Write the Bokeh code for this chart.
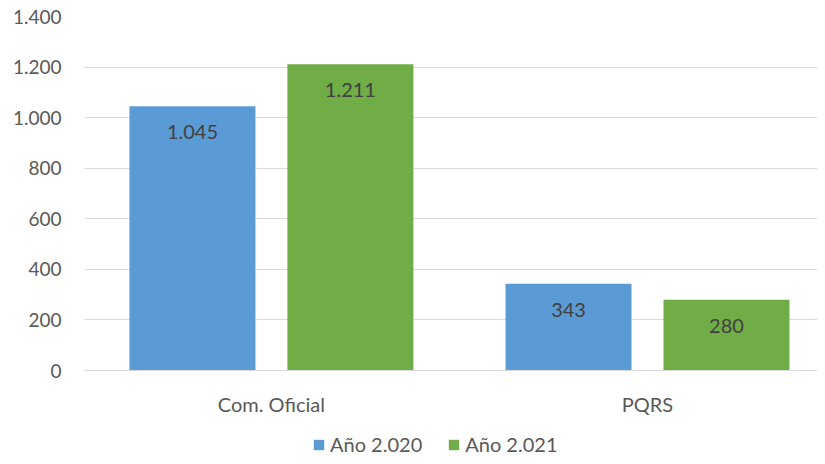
from bokeh.plotting import figure
from bokeh.layouts import column
from bokeh.models import ColumnDataSource, Range1d, FixedTicker, LabelSet, Legend, LegendItem
from bokeh.core.properties import value
from bokeh.embed import file_html
from bokeh.resources import INLINE

categories = ["Com. Oficial", "PQRS"]
series_names = ["Año 2.020", "Año 2.021"]
values_2020 = [1045, 343]
values_2021 = [1211, 280]
label_2020 = ["1.045", "343"]
label_2021 = ["1.211", "280"]
y_ticks = [0, 200, 400, 600, 800, 1000, 1200, 1400]
y_tick_labels = ["0", "200", "400", "600", "800", "1.000", "1.200", "1.400"]

BLUE = "#5B9BD5"
GREEN = "#70AD47"
FONT = "Lato"
colors = [BLUE, GREEN]

xs = list(range(len(categories)))
src_a = ColumnDataSource(dict(x=[i - 0.21 for i in xs], top=values_2020, lab=label_2020))
src_b = ColumnDataSource(dict(x=[i + 0.21 for i in xs], top=values_2021, lab=label_2021))

p = figure(width=817, height=420, output_backend="svg", toolbar_location=None,
           x_range=Range1d(-0.497, 1.452), y_range=Range1d(0, 1400),
           min_border_left=84, min_border_right=0, min_border_top=16, min_border_bottom=50)
p.outline_line_color = None

p.vbar(x="x", top="top", width=0.335, source=src_a, fill_color=BLUE, line_color=None)
p.vbar(x="x", top="top", width=0.335, source=src_b, fill_color=GREEN, line_color=None)

for s in (src_a, src_b):
    p.add_layout(LabelSet(x="x", y="top", text="lab", source=s, y_offset=-26,
                          text_align="center", text_baseline="middle",
                          text_font=value(FONT), text_font_size=value("20px"),
                          text_color="#404040"))

p.xaxis.ticker = FixedTicker(ticks=xs)
p.xaxis.major_label_overrides = {i: c for i, c in enumerate(categories)}
p.xaxis.axis_line_color = "#D9D9D9"
p.xaxis.major_tick_line_color = None
p.xaxis.minor_tick_line_color = None
p.xaxis.major_label_standoff = 15
p.xaxis.major_label_text_font = FONT
p.xaxis.major_label_text_font_size = "20px"
p.xaxis.major_label_text_color = "#595959"
p.xgrid.grid_line_color = None

p.yaxis.ticker = FixedTicker(ticks=y_ticks)
p.yaxis.major_label_overrides = {t: l for t, l in zip(y_ticks, y_tick_labels)}
p.yaxis.axis_line_color = None
p.yaxis.major_tick_line_color = None
p.yaxis.minor_tick_line_color = None
p.yaxis.major_label_standoff = 17
p.yaxis.major_label_text_font = FONT
p.yaxis.major_label_text_font_size = "19px"
p.yaxis.major_label_text_color = "#595959"
p.ygrid.grid_line_color = "#D9D9D9"

# legend strip below the chart (frame aligned with the chart's frame)
pl = figure(width=817, height=36, output_backend="svg", toolbar_location=None,
            x_range=Range1d(0, 1), y_range=Range1d(0, 1),
            min_border=0, min_border_left=0, min_border_right=0,
            min_border_top=0, min_border_bottom=0)
pl.outline_line_color = None
pl.axis.visible = False
pl.grid.visible = False
nan = float("nan")
dummy = [pl.rect(x=[nan], y=[nan], width=0.1, height=0.1, fill_color=c, line_color=None)
         for c in colors]
legend = Legend(items=[LegendItem(label=n, renderers=[r]) for n, r in zip(series_names, dummy)],
                orientation="horizontal", location=(228, 0),
                label_text_font=FONT, label_text_font_size="20px", label_text_color="#595959",
                glyph_width=13, glyph_height=13, spacing=25, label_standoff=5,
                background_fill_alpha=0, border_line_color=None, padding=0, margin=0)
pl.add_layout(legend, "center")

layout = column(p, pl, spacing=0)
open("out.html", "w").write(file_html(layout, INLINE))
